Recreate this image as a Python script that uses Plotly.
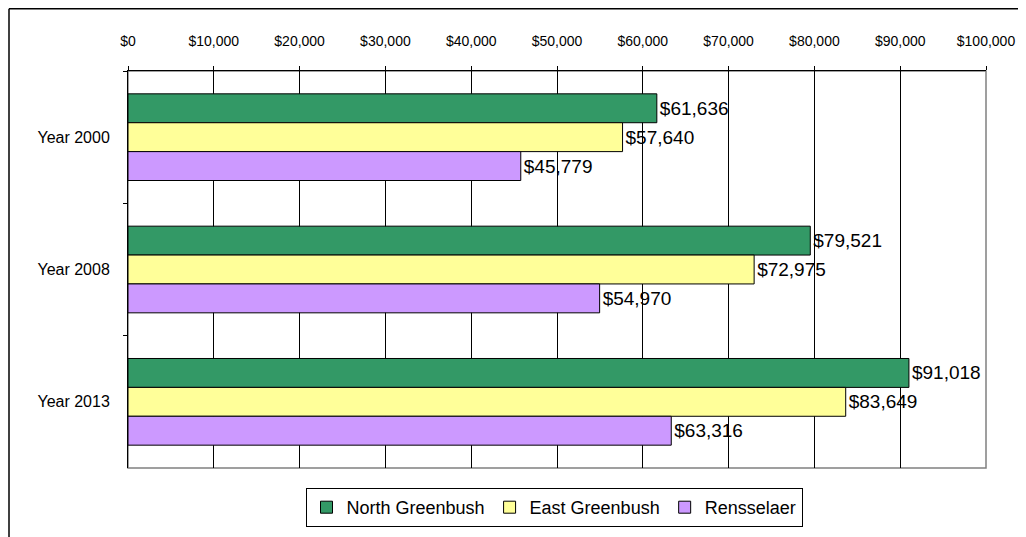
import plotly.graph_objects as go

years = ["Year 2000", "Year 2008", "Year 2013"]
series_names = ["North Greenbush", "East Greenbush", "Rensselaer"]
north_greenbush = [61636, 79521, 91018]
east_greenbush = [57640, 72975, 83649]
rensselaer = [45779, 54970, 63316]
colors = ["#339966", "#FFFF99", "#CC99FF"]
x_ticks = list(range(0, 100001, 10000))
x_tick_labels = ["$0", "$10,000", "$20,000", "$30,000", "$40,000", "$50,000",
                 "$60,000", "$70,000", "$80,000", "$90,000", "$100,000"]

fig = go.Figure()
for name, vals, col in zip(series_names, [north_greenbush, east_greenbush, rensselaer], colors):
    fig.add_trace(go.Bar(
        y=years, x=vals, name=name, orientation="h",
        marker=dict(color=col, line=dict(color="black", width=1)),
        text=[f"${v:,}" for v in vals], textposition="outside",
        textfont=dict(family="Liberation Sans, Arial", size=19, color="black"),
        constraintext="none", cliponaxis=False,
    ))

# page body has an 8px margin, so figure coordinates are offset by 8px
OFF = 8
L, R, T, B = 128 - OFF, 986 - OFF, 71 - OFF, 468 - OFF
W, H = 1026 - OFF, 537 - OFF
pw, ph = R - L, B - T
frame_x = 1.0 - L   # outer frame left edge (figure px relative to plot left)
frame_y = B - 0.8   # outer frame top (figure px from top → plot-relative)

fig.update_layout(
    width=W, height=H,
    margin=dict(l=L, r=W - R, t=T, b=H - B, pad=0, autoexpand=False),
    paper_bgcolor="white", plot_bgcolor="white",
    barmode="group", bargap=0.345, bargroupgap=0,
    font=dict(family="Liberation Sans, Arial", color="black"),
    legend=dict(orientation="h", x=(554 - OFF - L) / pw, xanchor="center",
                y=(B - (488 - OFF)) / ph, yanchor="top",
                bordercolor="black", borderwidth=1, itemwidth=30,
                font=dict(size=18), traceorder="normal"),
    xaxis=dict(side="top", range=[0, 100000], tickvals=x_ticks, ticktext=x_tick_labels,
               showline=True, linecolor="black", linewidth=1,
               ticks="outside", ticklen=4, tickcolor="black",
               showgrid=True, gridcolor="black", gridwidth=1,
               zeroline=False, ticklabelstandoff=14, automargin=False,
               tickfont=dict(size=14)),
    yaxis=dict(autorange="reversed", showline=True, linecolor="black", linewidth=1,
               ticks="outside", ticklen=4, tickcolor="black", tickson="boundaries",
               showgrid=False, ticklabelstandoff=14, automargin=False,
               tickfont=dict(size=16)),
    shapes=[
        dict(type="rect", xref="paper", yref="paper", x0=0, x1=1, y0=0, y1=1,
             line=dict(color="#808080", width=1.5), layer="below"),
        dict(type="line", xref="paper", yref="paper",
             x0=frame_x / pw, x1=frame_x / pw,
             y0=frame_y / ph, y1=(B - 560) / ph,
             line=dict(color="black", width=1.5)),
        dict(type="line", xref="paper", yref="paper",
             x0=frame_x / pw, x1=(1060 - L) / pw,
             y0=frame_y / ph, y1=frame_y / ph,
             line=dict(color="black", width=1.5)),
    ],
)

fig.write_html("out.html")
